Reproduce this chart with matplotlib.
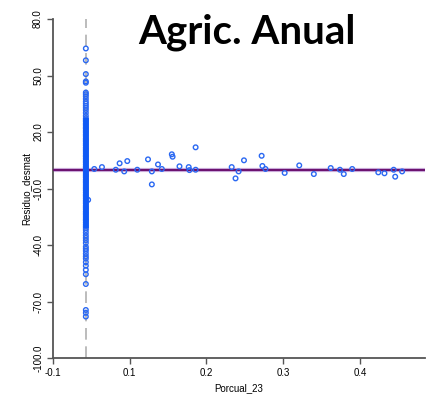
import numpy as np
import matplotlib.pyplot as plt

# Porcual_23 value shared by the stacked column of cases
col_x = 0.043

# Residuals of the stacked column (sparse tails + dense middle)
col_upper = [64.4, 58.1, 50.8, 46.9, 46.2, 41.0, 40.1, 39.0, 37.6, 36.2,
             35.1, 34.0, 32.9, 31.7, 30.2, 28.6]
col_dense = [27.3, 26.4, 25.6, 24.5, 23.7, 22.6, 21.8, 20.7, 19.9, 18.8,
             17.9, 16.7, 15.8, 14.9, 13.8, 12.9, 11.7, 10.8, 9.9, 8.8,
             7.7, 6.9, 5.8, 4.7, 3.9, 2.8, 1.7, 0.9, -0.2, -1.1,
             -2.2, -3.1, -4.0, -5.2, -6.1, -7.0, -8.1, -9.2, -10.1, -11.0,
             -12.1, -13.2, -14.0, -15.1, -16.2, -17.1, -18.0, -19.2, -20.1, -21.0,
             -22.2, -23.1, -24.0, -25.1, -26.2, -27.0, -28.1, -29.2, -30.1, -31.0]
col_lower = [-32.0, -33.4, -34.9, -36.2, -37.5, -38.9, -40.9, -42.0, -43.1, -44.6,
             -46.0, -47.2, -49.1, -51.0, -53.2, -55.5, -60.7, -74.5, -76.0, -78.0]

# Remaining cases spread along Porcual_23
pts_x = [0.046, 0.054, 0.064, 0.082, 0.087, 0.093, 0.097, 0.110, 0.124, 0.129,
         0.129, 0.137, 0.142, 0.155, 0.156, 0.165, 0.177, 0.178, 0.186, 0.186,
         0.233, 0.238, 0.242, 0.249, 0.272, 0.273, 0.277, 0.302, 0.321, 0.340,
         0.362, 0.374, 0.379, 0.390, 0.424, 0.432, 0.444, 0.446, 0.455]
pts_y = [-16.0, 0.4, 1.4, 0.0, 3.4, -0.9, 4.6, 0.0, 5.5, -0.9,
         -7.8, 2.8, 0.4, 8.2, 6.9, 1.8, 1.4, -0.2, 11.9, 0.0,
         1.4, -4.6, -0.9, 5.0, 7.4, 2.0, 0.4, -1.7, 2.3, -2.3,
         0.9, 0.0, -2.3, 0.4, -1.4, -1.9, 0.0, -3.7, -0.9]

x_ticks = [0.0, 0.1, 0.2, 0.3, 0.4]
x_tick_labels = ['-0.1', '0.1', '0.2', '0.3', '0.4']
y_ticks = [-100, -70, -40, -10, 20, 50, 80]

blue = '#2a68f2'
bar_blue = '#0f5af5'

fig = plt.figure(figsize=(4.26, 3.98), dpi=100)
ax = fig.add_axes([0.124, 0.1005, 0.874, 0.8515])

ax.axvline(col_x, color='#b0b0b0', lw=1.2, ls=(0, (7, 4)), zorder=1)
ax.axhline(0, color='#c9a9d9', lw=3.0, zorder=2)
ax.axhline(0, color='#6a0f6e', lw=1.4, zorder=3)

col_y = col_upper + col_dense + col_lower
ax.scatter([col_x] * len(col_y), col_y, s=11, facecolors='none',
           edgecolors=blue, linewidths=1.0, zorder=4)
ax.plot([col_x, col_x], [col_dense[0], col_dense[-1]], color=bar_blue, lw=4.0,
        solid_capstyle='butt', zorder=5)
ax.scatter(pts_x, pts_y, s=11, facecolors='none', edgecolors=blue,
           linewidths=1.0, zorder=4)

ax.set_xlim(0.0, 0.485)
ax.set_ylim(-100, 80)
ax.set_xticks(x_ticks)
ax.set_xticklabels(x_tick_labels, fontsize=7, family='Liberation Sans')
ax.set_yticks(y_ticks)
ax.set_yticklabels(['%.1f' % v for v in y_ticks], fontsize=7,
                   family='Liberation Sans', rotation=90, va='center')

for side in ['top', 'right']:
    ax.spines[side].set_visible(False)
for side in ['left', 'bottom']:
    ax.spines[side].set_color('#555555')
    ax.spines[side].set_linewidth(1.3)
ax.tick_params(direction='out', length=4, width=1, color='#555555', pad=3)

ax.set_xlabel('Porcual_23', fontsize=7, family='Liberation Sans', labelpad=4)
ax.set_ylabel('Residuo_desmat', fontsize=7, family='Liberation Sans', labelpad=1)

fig.text(0.58, 0.92, 'Agric. Anual', fontsize=29, fontweight='bold',
         family='Lato', ha='center', va='center')

fig.savefig('out.png', dpi=100)
